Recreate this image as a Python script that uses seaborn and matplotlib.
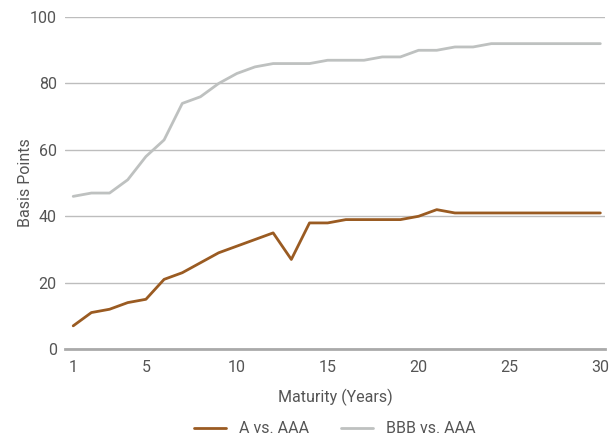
import pandas as pd
import numpy as np
import seaborn as sns
import matplotlib.pyplot as plt

# Data
maturity = list(range(1, 31))
a_vs_aaa = [7, 11, 12, 14, 15, 21, 23, 26, 29, 31, 33, 35, 27, 38, 38,
            39, 39, 39, 39, 40, 42, 41, 41, 41, 41, 41, 41, 41, 41, 41]
bbb_vs_aaa = [46, 47, 47, 51, 58, 63, 74, 76, 80, 83, 85, 86, 86, 86, 87,
              87, 87, 88, 88, 90, 90, 91, 91, 92, 92, 92, 92, 92, 92, 92]
series_names = ["A vs. AAA", "BBB vs. AAA"]
x_ticks = [1, 5, 10, 15, 20, 25, 30]
y_ticks = [0, 20, 40, 60, 80, 100]

df = pd.DataFrame({
    "Maturity": maturity * 2,
    "Spread": a_vs_aaa + bbb_vs_aaa,
    "Series": [series_names[0]] * 30 + [series_names[1]] * 30,
})

sns.set_style("white")
plt.rcParams["font.family"] = ["Roboto", "DejaVu Sans"]
text_color = "#555555"
fs = 11.5

fig = plt.figure(figsize=(6.1, 4.38), dpi=100)
ax = fig.add_axes([0.1066, 0.203, 0.885, 0.758])

palette = {series_names[0]: "#9a5b22", series_names[1]: "#bec1c0"}
sns.lineplot(data=df, x="Maturity", y="Spread", hue="Series", palette=palette,
             linewidth=2.0, ax=ax)

ax.set_xlim(0.55, 30.25)
ax.set_ylim(0, 100)
ax.set_xticks(x_ticks)
ax.set_yticks(y_ticks)
ax.yaxis.grid(True, color="#bdbdbd", linewidth=1.0)
ax.set_axisbelow(True)
for side in ["top", "right", "left"]:
    ax.spines[side].set_visible(False)
ax.spines["bottom"].set_color("#aaaaaa")
ax.spines["bottom"].set_linewidth(2.0)
ax.tick_params(axis="both", length=0, labelsize=fs, labelcolor=text_color)
ax.tick_params(axis="x", pad=8)
ax.tick_params(axis="y", pad=6)

ax.set_xlabel("Maturity (Years)", fontsize=fs, color=text_color, labelpad=10)
ax.set_ylabel("Basis Points", fontsize=fs, color=text_color)
ax.yaxis.set_label_coords(-0.059, 0.5)

ax.legend(loc="center", bbox_to_anchor=(0.5, -0.24), ncol=2, frameon=False,
          fontsize=fs, labelcolor=text_color, handlelength=2.0, columnspacing=2.0,
          borderpad=0, title=None)

fig.savefig("out.png", dpi=100)
